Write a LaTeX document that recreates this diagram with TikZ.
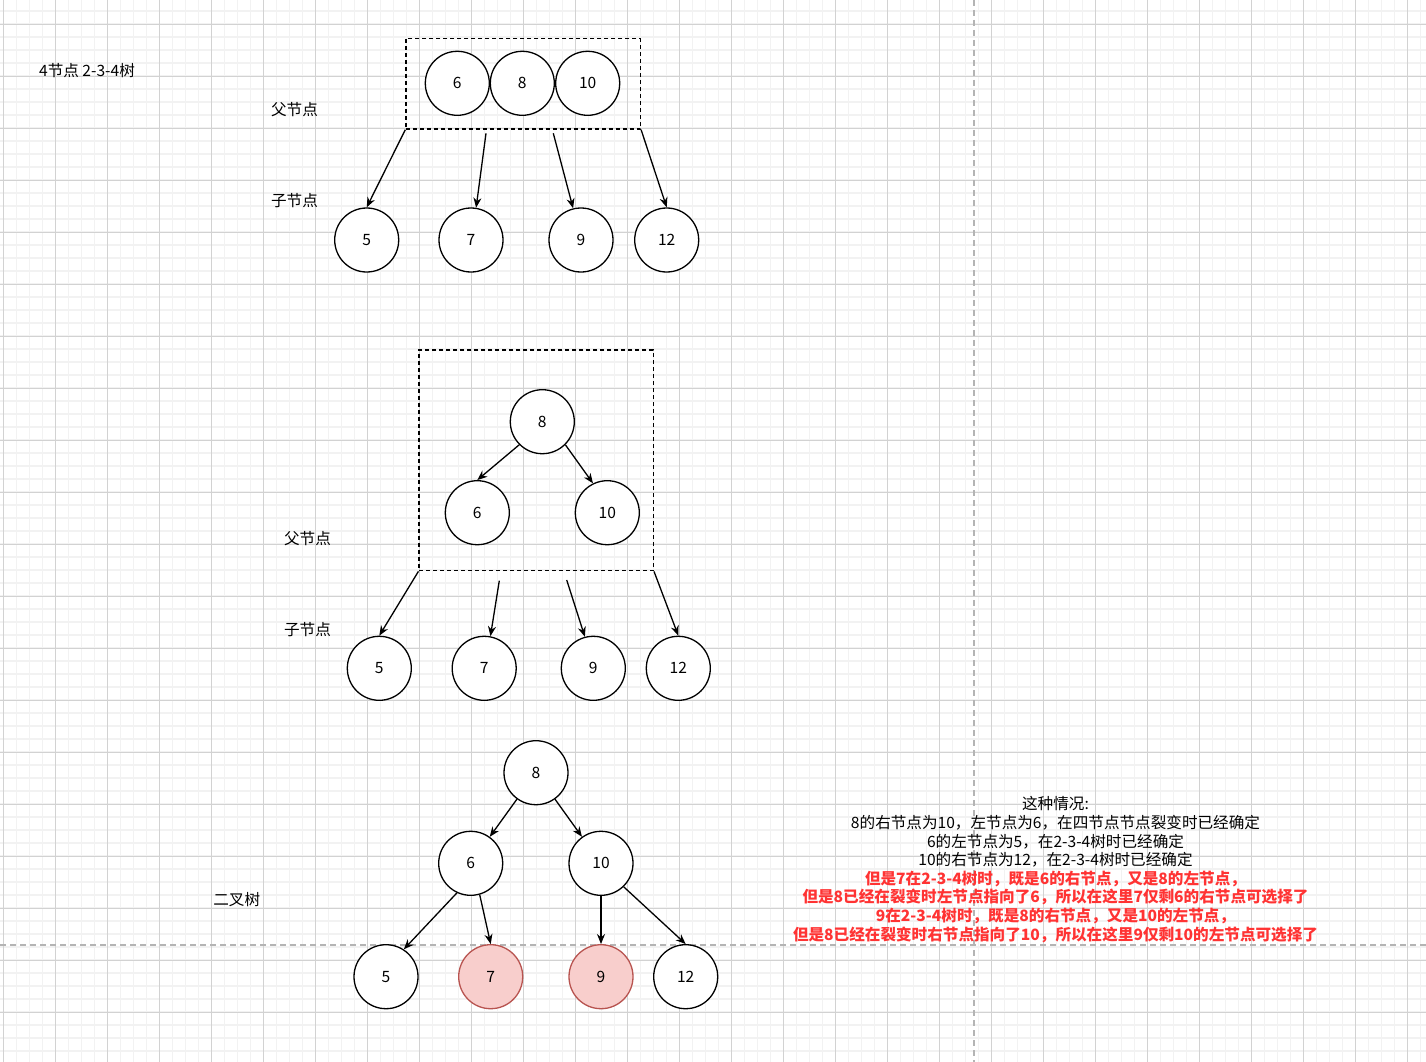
\documentclass[tikz,border=0pt]{standalone}
\usepackage{fontspec}
\setmainfont{Noto Sans CJK SC}
\usetikzlibrary{arrows.meta}

\definecolor{gridminor}{RGB}{242,242,242}
\definecolor{gridmajor}{RGB}{210,210,210}
\definecolor{guide}{RGB}{180,180,180}
\definecolor{pinkfill}{RGB}{248,206,204}
\definecolor{pinkline}{RGB}{184,84,80}
\definecolor{notered}{RGB}{255,51,51}

\begin{document}
\begin{tikzpicture}[x=1pt, y=-1pt,
    keynode/.style={circle, draw, fill=white, line width=1.3pt, minimum size=64pt, inner sep=0pt, font=\fontsize{15.6}{18.7}\selectfont},
    picked/.style={keynode, draw=pinkline, fill=pinkfill},
    groupbox/.style={rectangle, draw, line width=1.3pt, dash pattern=on 4pt off 3pt, inner sep=0pt},
    lbl/.style={font=\fontsize{15.6}{18.7}\selectfont, inner sep=0pt},
    arr/.style={-{Stealth[length=10pt, width=8pt]}, line width=1.3pt}]

        \useasboundingbox (0,0) rectangle (1426,1062);
        \clip (0,0) rectangle (1426,1062);

        % background grid
        \fill[white] (0,0) rectangle (1426,1062);
        \foreach \k in {0,...,109} \draw[gridminor, line width=1.2pt] (3.3+13*\k, 0) -- ++(0, 1062);
        \foreach \k in {0,...,81} \draw[gridminor, line width=1.2pt] (0, -2+13*\k) -- ++(1426, 0);
        \foreach \k in {0,...,27} \draw[gridmajor, line width=0.9pt] (3.3+52*\k, 0) -- ++(0, 1062);
        \foreach \k in {0,...,20} \draw[gridmajor, line width=0.9pt] (0, 24+52*\k) -- ++(1426, 0);

        \draw[guide, line width=2pt, dash pattern=on 6pt off 4pt] (973.5, 0) -- (973.5, 1062);
        \draw[guide, line width=2pt, dash pattern=on 6pt off 4pt] (0, 944.5) -- (1426, 944.5);

        % Define nodes (4-node of the 2-3-4 tree)

        \node (title) at ( 87, 71) [lbl] {4节点 2-3-4树};

        \node (qpar) at (294.5, 110) [lbl] {父节点};

        \node (qchd) at (294.5, 201) [lbl] {子节点};

        \node (quad) at (523.2, 83.8) [groupbox, minimum width=234.5pt, minimum height=90.5pt] {};

        \node (q6)  at (457.3, 83.3) [keynode] {6};
        \node (q8)  at (522.3, 83.3) [keynode] {8};
        \node (q10) at (587.7, 83.3) [keynode] {10};

        \node (qa5)  at (366.7, 240) [keynode] {5};
        \node (qa7)  at (471, 240) [keynode] {7};
        \node (qa9)  at (581, 240) [keynode] {9};
        \node (qa12) at (666.7, 240) [keynode] {12};

        \coordinate (qs7) at (486, 133.3);
        \coordinate (qs9) at (553.3, 133.3);

        % Define nodes (split into a small tree)

        \node (mpar) at (307.5, 538.3) [lbl] {父节点};

        \node (mchd) at (307.5, 629.3) [lbl] {子节点};

        \node (mid) at (536.2, 460.4) [groupbox, minimum width=234.3pt, minimum height=220.7pt] {};

        \node (m8)  at (542.3, 421.7) [keynode] {8};
        \node (m6)  at (477.3, 512.7) [keynode] {6};
        \node (m10) at (607.3, 512.7) [keynode] {10};

        \node (mc5)  at (379.3, 668.3) [keynode] {5};
        \node (mc7)  at (484.2, 668.3) [keynode] {7};
        \node (mc9)  at (593.3, 668.3) [keynode] {9};
        \node (mc12) at (678.3, 668.3) [keynode] {12};

        \coordinate (ms7) at (499.3, 580.7);
        \coordinate (ms9) at (566.7, 580);

        % Define nodes (binary tree)

        \node (bin) at (236.7, 900) [lbl] {二叉树};

        \node (b8)  at (536, 772.7) [keynode] {8};
        \node (b6)  at (470.7, 863.3) [keynode] {6};
        \node (b10) at (601, 863.3) [keynode] {10};

        \node (b5)  at (386, 976.7) [keynode] {5};
        \node (b7)  at (490.7, 976.7) [picked] {7};
        \node (b9)  at (601, 976.7) [picked] {9};
        \node (b12) at (685.7, 976.7) [keynode] {12};

        % note

        \node (note) at (1055.5, 869.5) [lbl, align=center, font=\fontsize{15.6}{18.6}\selectfont] {%
            这种情况:\\
            8的右节点为10，左节点为6，在四节点节点裂变时已经确定\\
            6的左节点为5，在2-3-4树时已经确定\\
            10的右节点为12，在2-3-4树时已经确定\\
            {\color{notered}\bfseries 但是7在2-3-4树时，既是6的右节点，又是8的左节点，}\\
            {\color{notered}\bfseries 但是8已经在裂变时左节点指向了6，所以在这里7仅剩6的右节点可选择了}\\
            {\color{notered}\bfseries 9在2-3-4树时，既是8的右节点，又是10的左节点，}\\
            {\color{notered}\bfseries 但是8已经在裂变时右节点指向了10，所以在这里9仅剩10的左节点可选择了}};

        % Draw arrows between nodes

        \draw[arr] (quad.south west) -- (qa5.north);

        \draw[arr] (qs7) -- (qa7.81);

        \draw[arr] (qs9) -- (qa9.104);

        \draw[arr] (quad.south east) -- (qa12.north);

        \draw[arr] (m8.225) -- (m6.north);

        \draw[arr] (m8.315) -- (m10.116);

        \draw[arr] (mid.south west) -- (mc5.north);

        \draw[arr] (ms7) -- (mc7.79);

        \draw[arr] (ms9) -- (mc9.105);

        \draw[arr] (mid.south east) -- (mc12.north);

        \draw[arr] (b8) -- (b6);

        \draw[arr] (b8) -- (b10);

        \draw[arr] (b6.245) -- (b5.57);

        \draw[arr] (b6.286) -- (b7.north);

        \draw[arr] (b10) -- (b9);

        \draw[arr] (b10.314) -- (b12.north);

    \end{tikzpicture}
\end{document}
